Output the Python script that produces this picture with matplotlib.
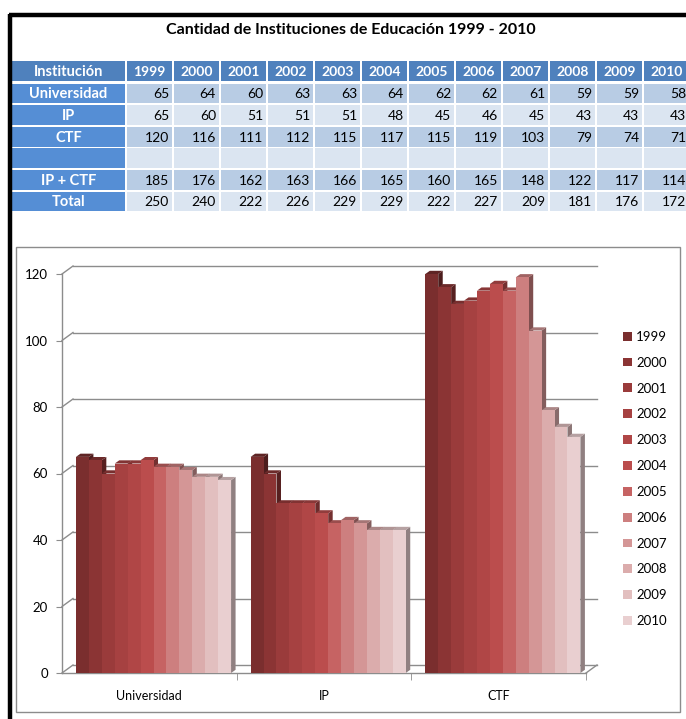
import matplotlib.pyplot as plt
import numpy as np
from matplotlib.patches import Rectangle, Polygon

plt.rcParams['font.family'] = ['Lato', 'DejaVu Sans']

# Data
years = [1999, 2000, 2001, 2002, 2003, 2004, 2005, 2006, 2007, 2008, 2009, 2010]
categories = ['Universidad', 'IP', 'CTF']
universidad = [65, 64, 60, 63, 63, 64, 62, 62, 61, 59, 59, 58]
ip = [65, 60, 51, 51, 51, 48, 45, 46, 45, 43, 43, 43]
ctf = [120, 116, 111, 112, 115, 117, 115, 119, 103, 79, 74, 71]
ip_ctf = [185, 176, 162, 163, 166, 165, 160, 165, 148, 122, 117, 114]
total = [250, 240, 222, 226, 229, 229, 222, 227, 209, 181, 176, 172]
yticks = [0, 20, 40, 60, 80, 100, 120]

series_colors = ['#7a2e2e', '#8b3434', '#9a3b3b', '#a64141', '#b04646', '#bb4d4d',
                 '#c66363', '#cd7f7f', '#d49696', '#dbacac', '#e2bfbf', '#e9cfd0']

W, H = 686, 719
fig = plt.figure(figsize=(W / 100, H / 100), dpi=100)

# --- page / table layer (pixel coordinates) ---
tab = fig.add_axes([0, 0, 1, 1])
tab.set_xlim(0, W)
tab.set_ylim(H, 0)
tab.axis('off')

# black frame on the left and top
tab.plot([10, 10], [14, H], color='black', lw=3.2, solid_capstyle='butt')
tab.plot([8.5, W], [14.5, 14.5], color='black', lw=3.2, solid_capstyle='butt')

tab.text(351, 30, 'Cantidad de Instituciones de Educación 1999 - 2010',
         ha='center', va='center', fontsize=11.5, fontweight='bold')

hdr_blue = '#4f81bd'
lbl_blue = '#558ed5'
dark_cell = '#b8cce4'
light_cell = '#dbe5f1'

col0_x, col0_w = 12, 113
col_x0, col_pitch, col_w = 127, 47, 45
row_y0, row_pitch, row_h = 61, 21.6, 19.8

rows = [('Universidad', universidad), ('IP', ip), ('CTF', ctf),
        ('', None), ('IP + CTF', ip_ctf), ('Total', total)]

# header row
tab.add_patch(Rectangle((col0_x, row_y0), col0_w, row_h, color=hdr_blue, lw=0))
tab.text(col0_x + col0_w / 2, row_y0 + row_h / 2 + 1, 'Institución', color='white',
         ha='center', va='center', fontsize=10.5, fontweight='bold')
for j, yr in enumerate(years):
    x = col_x0 + j * col_pitch
    tab.add_patch(Rectangle((x, row_y0), col_w, row_h, color=hdr_blue, lw=0))
    tab.text(x + col_w / 2, row_y0 + row_h / 2 + 1, str(yr), color='white',
             ha='center', va='center', fontsize=10, fontweight='bold')

for i, (name, vals) in enumerate(rows):
    y = row_y0 + (i + 1) * row_pitch + 1
    fill = dark_cell if i % 2 == 0 else light_cell
    tab.add_patch(Rectangle((col0_x, y), col0_w, row_h, color=lbl_blue, lw=0))
    tab.text(col0_x + col0_w / 2, y + row_h / 2 + 1, name, color='white',
             ha='center', va='center', fontsize=10.5, fontweight='bold')
    for j in range(len(years)):
        x = col_x0 + j * col_pitch
        tab.add_patch(Rectangle((x, y), col_w, row_h, color=fill, lw=0))
        if vals is not None:
            tab.text(x + col_w - 3, y + row_h / 2 + 1, str(vals[j]), color='black',
                     ha='right', va='center', fontsize=10)

# chart box
tab.add_patch(Rectangle((15.5, 246.5), 664, 465, fill=False, ec='#8c8c8c', lw=1))

# --- 3D-style clustered column chart ---
px_left, px_right, px_top, px_bottom = 62, 586, 274, 673
ax = fig.add_axes([px_left / W, (H - px_bottom) / H,
                   (px_right - px_left) / W, (px_bottom - px_top) / H])
ax.set_xlim(-0.5, 2.5)
ax.set_ylim(0, 120)
ax.patch.set_alpha(0)
for s in ax.spines.values():
    s.set_visible(False)

xpp = 3 / (px_right - px_left)      # data x per pixel
ypp = 120 / (px_bottom - px_top)    # data y per pixel
wall_dx, wall_dy = 11 * xpp, 8 * ypp
bar_dx, bar_dy = 4.5 * xpp, 3.2 * ypp
grid_c = '#8c8c8c'

# back wall gridlines, side wall and floor
for v in yticks:
    ax.plot([-0.5 + wall_dx, 2.5 + wall_dx], [v + wall_dy, v + wall_dy],
            color=grid_c, lw=1, clip_on=False, zorder=1)
    ax.plot([-0.5, -0.5 + wall_dx], [v, v + wall_dy], color=grid_c, lw=1,
            clip_on=False, zorder=1)
ax.plot([-0.5, -0.5], [0, 120], color=grid_c, lw=1, clip_on=False, zorder=1)
ax.plot([-0.5, 2.5], [0, 0], color=grid_c, lw=1, clip_on=False, zorder=1)
ax.plot([2.5, 2.5 + wall_dx], [0, wall_dy], color=grid_c, lw=1, clip_on=False, zorder=1)

values = np.array([universidad, ip, ctf])  # shape (category, year)
n = len(years)
bar_w = 0.074
group_shift = 0.024


def shade(c, f):
    rgb = np.array(plt.matplotlib.colors.to_rgb(c))
    return tuple(rgb * f)


handles = []
for k in range(len(categories)):
    left0 = k + group_shift - n * bar_w / 2
    for j in range(n):
        v = values[k, j]
        x0 = left0 + j * bar_w
        x1 = x0 + bar_w
        z = 3 + j * 0.01
        side = Polygon([(x1, 0), (x1 + bar_dx, bar_dy), (x1 + bar_dx, v + bar_dy), (x1, v)],
                       closed=True, fc=shade(series_colors[j], 0.62), ec='none',
                       zorder=z, clip_on=False)
        top = Polygon([(x0, v), (x0 + bar_dx, v + bar_dy), (x1 + bar_dx, v + bar_dy), (x1, v)],
                      closed=True, fc=shade(series_colors[j], 0.78), ec='none',
                      zorder=z, clip_on=False)
        ax.add_patch(side)
        ax.add_patch(top)
        b = ax.bar(x0, v, width=bar_w, align='edge', color=series_colors[j],
                   lw=0, zorder=z + 0.005, label=str(years[j]) if k == 0 else None)
        if k == 0:
            handles.append(b)

ax.set_yticks(yticks)
ax.set_xticks(range(len(categories)))
ax.set_xticklabels(categories)
ax.set_xticks([0.5, 1.5, 2.5], minor=True)
ax.tick_params(axis='y', length=4, color=grid_c, labelsize=9.5, pad=6)
ax.tick_params(axis='x', which='major', length=0, labelsize=9, pad=12)
ax.tick_params(axis='x', which='minor', length=5, color=grid_c)

ax.legend(handles=handles, loc='center left', frameon=False,
          bbox_to_anchor=(623 / W, (H - 479) / H), bbox_transform=fig.transFigure,
          fontsize=9.5, handlelength=0.65, handleheight=0.65, handletextpad=0.35,
          labelspacing=1.05, borderpad=0, borderaxespad=0)

fig.savefig('out.png', dpi=100)
